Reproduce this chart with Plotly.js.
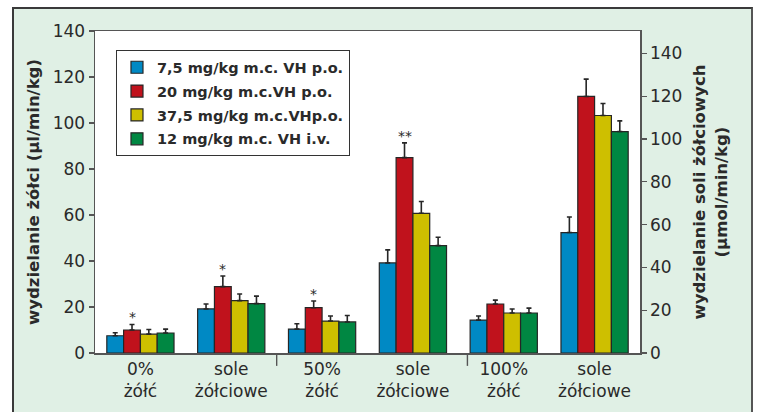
<!DOCTYPE html>
<html>
<head>
<meta charset="utf-8">
<script src="https://cdn.plot.ly/plotly-3.0.1.min.js"></script>
<style>
  html, body { margin: 0; padding: 0; background: #ffffff; }
  #frame { position: absolute; left: 12px; top: 7px; width: 741px; height: 405px;
           background: rgb(224,240,229); border-top: 2px solid #3a3a3a; border-left: 2px solid #3a3a3a;
           border-right: 2px solid #555; box-sizing: border-box; }
  #chart { position: absolute; left: 0; top: 0; width: 757px; height: 412px; }
</style>
</head>
<body>
<div id="frame"></div>
<div id="chart"></div>
<script>
// ---- data ----
var tickLabels = ["0%<br>żółć", "sole<br>żółciowe", "50%<br>żółć", "sole<br>żółciowe", "100%<br>żółć", "sole<br>żółciowe"];
var bilePos = [0, 2, 4];   // bile groups (left axis, µl/min/kg)
var saltPos = [1, 3, 5];   // bile-salt groups (right axis, µmol/min/kg)
var seriesNames = ["7,5 mg/kg m.c. VH p.o.", "20 mg/kg m.c.VH p.o.", "37,5 mg/kg m.c.VHp.o.", "12 mg/kg m.c. VH i.v."];

var bileBlue   = [7.5, 10.4, 14.3];  var bileBlueErr   = [1.3, 2.3, 1.8];
var bileRed    = [10.0, 19.7, 21.3]; var bileRedErr    = [2.4, 2.9, 1.7];
var bileYellow = [8.2, 13.9, 17.4];  var bileYellowErr = [2.0, 2.2, 1.7];
var bileGreen  = [8.7, 13.5, 17.4];  var bileGreenErr  = [1.7, 2.8, 2.1];

var saltBlue   = [20.6, 42.1, 56.3];  var saltBlueErr   = [2.3, 6.1, 7.3];
var saltRed    = [31.0, 91.3, 119.9]; var saltRedErr    = [5.0, 6.9, 8.1];
var saltYellow = [24.5, 65.3, 111.0]; var saltYellowErr = [3.1, 5.5, 5.6];
var saltGreen  = [23.1, 50.2, 103.5]; var saltGreenErr  = [3.5, 3.9, 5.0];

var bileStars = ["*", "*", ""];   // significance marks over red bars
var saltStars = ["*", "**", ""];

var leftTicks = [0, 20, 40, 60, 80, 100, 120, 140];
var rightTicks = [0, 20, 40, 60, 80, 100, 120, 140];

// ---- styling ----
var colors = ["rgb(0,137,196)", "rgb(192,18,28)", "rgb(206,191,0)", "rgb(0,135,66)"];
var FONT = "DejaVu Sans, Verdana, sans-serif";
var TXT = "#2a2a2a";
var BW = 0.185;
var OFF0 = -0.37;

var bileVals = [bileBlue, bileRed, bileYellow, bileGreen];
var bileErrs = [bileBlueErr, bileRedErr, bileYellowErr, bileGreenErr];
var saltVals = [saltBlue, saltRed, saltYellow, saltGreen];
var saltErrs = [saltBlueErr, saltRedErr, saltYellowErr, saltGreenErr];

var traces = [];
function mk(pos, vals, errs, i, yaxis, show) {
  return {
    type: "bar", x: pos, y: vals, yaxis: yaxis, name: seriesNames[i],
    showlegend: show, legendgroup: "g" + i,
    width: BW, offset: OFF0 + i * BW,
    marker: { color: colors[i], line: { color: "#262626", width: 1.2 } },
    error_y: { type: "data", array: errs, arrayminus: errs.map(function(){return 0;}), symmetric: false,
               color: "#262626", thickness: 1.6, width: 2.5 },
    hoverinfo: "y"
  };
}
for (var i = 0; i < 4; i++) traces.push(mk(bilePos, bileVals[i], bileErrs[i], i, "y", true));
for (var i = 0; i < 4; i++) traces.push(mk(saltPos, saltVals[i], saltErrs[i], i, "y2", false));

var annotations = [];
function addStars(pos, vals, errs, stars, yref) {
  for (var k = 0; k < pos.length; k++) {
    if (!stars[k]) continue;
    annotations.push({
      x: pos[k] + OFF0 + BW * 1.5, y: vals[k] + errs[k], xref: "x", yref: yref,
      text: stars[k], showarrow: false, yanchor: "bottom", yshift: -3,
      font: { family: FONT, size: 14, color: TXT }
    });
  }
}
addStars(bilePos, bileRed, bileRedErr, bileStars, "y");
addStars(saltPos, saltRed, saltRedErr, saltStars, "y2");

var shapes = [1.5, 3.6].map(function (xv) {
  return { type: "line", xref: "x", yref: "paper", x0: xv, x1: xv, y0: 0, y1: -0.04,
           line: { color: "#555", width: 1.4 } };
});

var layout = {
  width: 757, height: 412,
  paper_bgcolor: "rgba(0,0,0,0)", plot_bgcolor: "#ffffff",
  margin: { l: 95, r: 117, t: 31, b: 59 },
  font: { family: FONT, color: TXT, size: 17 },
  showlegend: true,
  legend: { x: 0.0385, y: 0.94, xanchor: "left", yanchor: "top", bgcolor: "#ffffff",
            bordercolor: "#333", borderwidth: 1, font: { family: FONT, size: 14.5, color: TXT, weight: "bold" },
            tracegroupgap: 2 },
  xaxis: { range: [-0.5, 5.5], tickvals: [0, 1, 2, 3, 4, 5], ticktext: tickLabels, ticks: "",
           showline: true, mirror: true, linecolor: "#555", linewidth: 1.5, showgrid: false, zeroline: false,
           tickfont: { family: FONT, size: 17, color: TXT }, fixedrange: true },
  yaxis: { range: [0, 140], tickvals: leftTicks, ticks: "outside", ticklen: 5, tickcolor: "#555", tickwidth: 1.3,
           showline: true, linecolor: "#555", linewidth: 1.5, showgrid: false, zeroline: false,
           tickfont: { family: FONT, size: 17, color: TXT },
           title: { text: "wydzielanie żółci (µl/min/kg)", standoff: 9,
                    font: { family: FONT, size: 16.5, color: TXT, weight: "bold" } } },
  yaxis2: { overlaying: "y", side: "right", range: [0, 150.5], tickvals: rightTicks, ticks: "outside", ticklen: 5,
            tickcolor: "#555", tickwidth: 1.3, showline: true, linecolor: "#555", linewidth: 1.5,
            showgrid: false, zeroline: false, tickfont: { family: FONT, size: 17, color: TXT },
            title: { text: "wydzielanie soli żółciowych<br>(µmol/min/kg)", standoff: 12,
                     font: { family: FONT, size: 16.5, color: TXT, weight: "bold" } } },
  annotations: annotations,
  shapes: shapes,
  bargap: 0.26
};

Plotly.newPlot("chart", traces, layout, { displayModeBar: false, staticPlot: true });
</script>
</body>
</html>
